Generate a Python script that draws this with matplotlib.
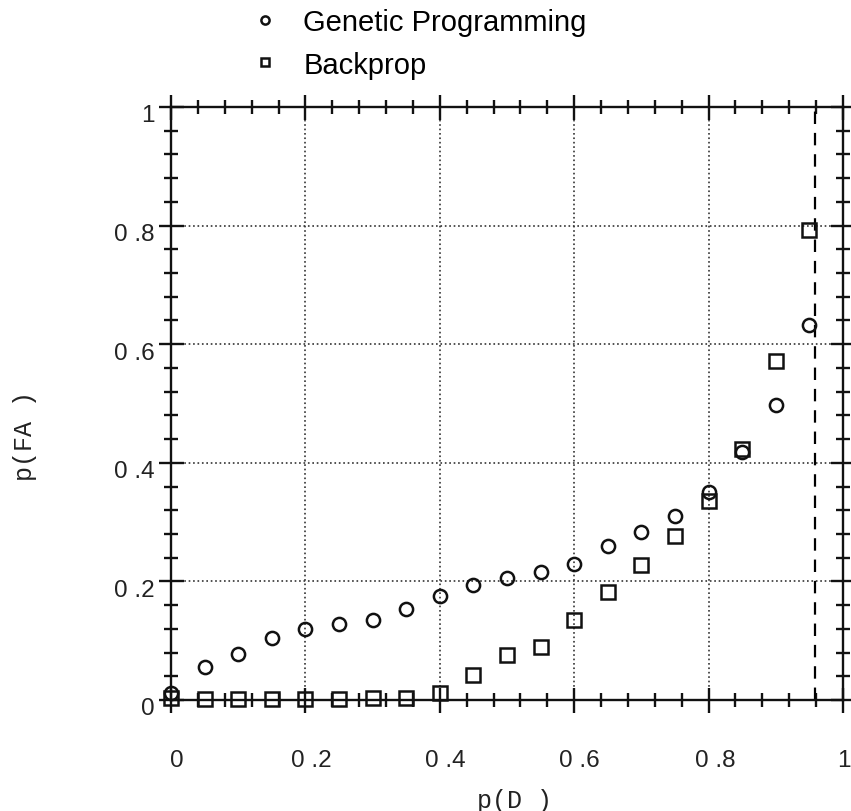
import matplotlib
matplotlib.use("Agg")
import matplotlib.pyplot as plt
from matplotlib.transforms import ScaledTranslation

# ---- data ----
p_d = [0.0, 0.05, 0.10, 0.15, 0.20, 0.25, 0.30, 0.35, 0.40, 0.45,
       0.50, 0.55, 0.60, 0.65, 0.70, 0.75, 0.80, 0.85, 0.90, 0.95]
gp_fa = [0.0125, 0.055, 0.077, 0.104, 0.119, 0.128, 0.135, 0.153, 0.176, 0.194,
         0.205, 0.216, 0.229, 0.259, 0.284, 0.311, 0.350, 0.418, 0.498, 0.632]
bp_fa = [0.003, 0.002, 0.002, 0.002, 0.002, 0.002, 0.004, 0.004, 0.0125, 0.043,
         0.076, 0.090, 0.135, 0.182, 0.228, 0.277, 0.336, 0.423, 0.571, 0.792]
threshold_x = 0.958
series_labels = ["Genetic Programming", "Backprop"]
major_ticks = [0, 0.2, 0.4, 0.6, 0.8, 1.0]
tick_labels = ["0", "0 .2", "0 .4", "0 .6", "0 .8", "1"]
minor_ticks = [0.04, 0.08, 0.12, 0.16, 0.24, 0.28, 0.32, 0.36, 0.44, 0.48, 0.52, 0.56,
               0.64, 0.68, 0.72, 0.76, 0.84, 0.88, 0.92, 0.96]

W, H = 851, 812
fig = plt.figure(figsize=(W / 100, H / 100), dpi=100)
L, R, T, B = 171, 843, 108, 701
ax = fig.add_axes([L / W, (H - B) / H, (R - L) / W, (B - T) / H])

ax.set_xlim(0, 1)
ax.set_ylim(0, 1)

ax.grid(True, which="major", linestyle=":", color="#333333", linewidth=1.2)
ax.set_axisbelow(True)

ax.axvline(threshold_x, ymin=0, ymax=1, color="black", linewidth=1.6,
           dashes=(5.6, 4.0), zorder=2)

h1, = ax.plot(p_d, gp_fa, linestyle="none", marker="o", markersize=9.5,
              markerfacecolor="none", markeredgecolor="#111111",
              markeredgewidth=1.8, label=series_labels[0], clip_on=False, zorder=3)
h2, = ax.plot(p_d, bp_fa, linestyle="none", marker="s", markersize=9.5,
              markerfacecolor="none", markeredgecolor="#111111",
              markeredgewidth=1.8, label=series_labels[1], clip_on=False, zorder=3)

for sp in ax.spines.values():
    sp.set_linewidth(1.7)
    sp.set_color("#111111")

ax.set_xticks(major_ticks)
ax.set_yticks(major_ticks)
ax.set_xticks(minor_ticks, minor=True)
ax.set_yticks(minor_ticks, minor=True)
ax.set_xticklabels(tick_labels)
ax.set_yticklabels(tick_labels)

ax.tick_params(which="both", direction="inout", top=True, right=True,
               color="#111111", width=1.7)
ax.tick_params(which="major", length=18)
ax.tick_params(which="minor", length=10)
ax.tick_params(axis="x", which="major", pad=26, labelsize=17.5)
ax.tick_params(axis="y", which="major", pad=3, labelsize=17.5)

x_offsets_px = [6, 6, 6, 5, 7, 1]
for lab, dx in zip(ax.get_xticklabels(), x_offsets_px):
    lab.set_fontfamily("Liberation Sans")
    lab.set_color("#222222")
    lab.set_transform(lab.get_transform() + ScaledTranslation(dx / 100, 0, fig.dpi_scale_trans))
for lab in ax.get_yticklabels():
    lab.set_fontfamily("Liberation Sans")
    lab.set_color("#222222")
    lab.set_transform(lab.get_transform() + ScaledTranslation(0, -6 / 100, fig.dpi_scale_trans))

ax.set_xlabel("p(D )", fontfamily="Liberation Mono", fontsize=18, color="#222222",
              va="center", ha="center")
ax.xaxis.set_label_coords((515 - L) / (R - L), (B - 801) / (B - T))
ax.set_ylabel("p(FA )", fontfamily="Liberation Mono", fontsize=18, color="#222222",
              va="center", ha="center")
ax.yaxis.set_label_coords((25 - L) / (R - L), (B - 436) / (B - T))

fig.legend(handles=[h1, h2], loc="upper left", bbox_to_anchor=(256 / W, 1 - 9 / H),
           frameon=False, markerscale=0.62, handlelength=0.6, handletextpad=1.02,
           labelspacing=0.5, borderpad=0, borderaxespad=0,
           prop={"family": "Liberation Sans", "size": 21})

fig.savefig("out.png", dpi=100)
